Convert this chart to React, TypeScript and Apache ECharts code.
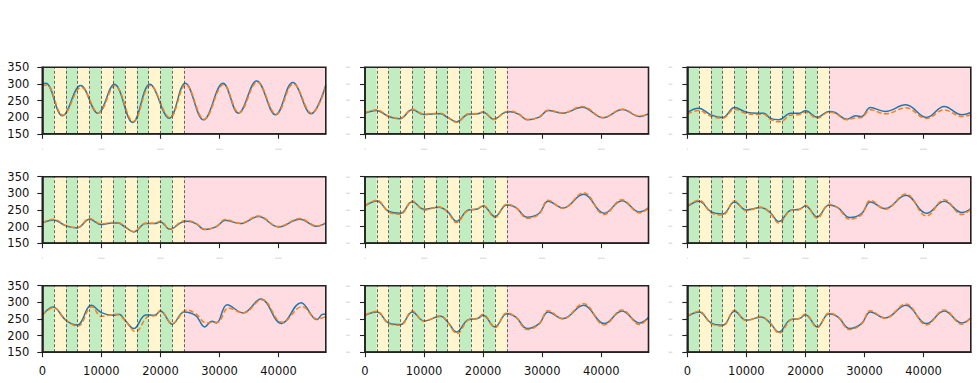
import React, { useEffect, useRef } from "react";
import * as echarts from "echarts";

type P = [number, number][];

// x positions (samples) and values, per panel (row-major)
const p11Blue: P = [[0,300],[600,302],[3400,204],[6500,295],[9400,212],[12200,299],[15300,184],[18200,299],[21500,197],[24200,302],[27300,192],[30600,302],[33200,212],[36300,309],[39500,207],[42400,304],[45500,210],[48000,297]];
const p11Orange: P = [[0,295],[700,297],[3500,206],[6600,290],[9500,213],[12300,295],[15400,187],[18300,295],[21600,199],[24300,298],[27400,194],[30700,298],[33300,213],[36400,305],[39600,209],[42500,300],[45600,212],[48000,292]];

const p12Blue: P = [[0,212],[1900,220],[4000,202],[5900,195],[8000,222],[10000,208],[11800,210],[12800,210],[14000,199],[15500,186],[17500,209],[19000,210],[20000,215],[21800,194],[23800,215],[24600,216],[26000,209],[27500,192],[29500,200],[31000,220],[33500,212],[36800,230],[40300,198],[43600,223],[46500,202],[48000,210]];
const p12Orange: P = [[0,213],[1900,222],[4000,203],[5900,196],[8000,224],[10000,209],[11800,211],[12800,212],[14000,200],[15500,185],[17500,210],[19000,211],[20000,216],[21800,193],[23800,216],[24600,218],[26000,210],[27500,193],[29500,201],[31000,221],[33500,213],[36800,232],[40300,199],[43600,224],[46500,203],[48000,211]];

const p13Blue: P = [[0,214],[1900,227],[4000,207],[6000,199],[8000,229],[10000,215],[12000,212],[13000,212],[14000,197],[15500,192],[17500,212],[19000,212],[20000,219],[22000,200],[24000,217],[25000,214],[27000,194],[28500,204],[29500,202],[31000,229],[33500,217],[37000,237],[40500,199],[43500,232],[46500,207],[48000,214]];
const p13Orange: P = [[0,210],[1900,220],[4000,203],[6000,197],[8000,224],[10000,211],[12000,208],[13000,209],[14000,194],[15700,186],[17500,206],[19000,208],[20000,215],[22000,197],[24000,215],[25000,212],[27000,192],[28500,198],[29500,199],[31000,222],[33500,210],[37000,228],[40500,196],[43500,222],[46500,202],[48000,207]];

const p21Blue: P = [[0,211],[1900,220],[4000,202],[5900,196],[8000,222],[10000,206],[11800,211],[12800,211],[14000,199],[15500,184],[17500,209],[19000,209],[20000,214],[21600,192],[23700,214],[24600,216],[26000,209],[27500,191],[29500,200],[31000,219],[33500,209],[36600,230],[40000,199],[43600,222],[46500,201],[48000,211]];
const p21Orange: P = [[0,212],[1900,222],[4000,203],[5900,197],[8000,224],[10000,208],[11800,212],[12800,212],[14000,200],[15500,185],[17500,210],[19000,210],[20000,216],[21600,193],[23700,216],[24600,218],[26000,210],[27500,192],[29500,201],[31000,221],[33500,210],[36600,232],[40000,200],[43600,224],[46500,202],[48000,212]];

const p22Blue: P = [[0,262],[2000,277],[4000,246],[6000,240],[8000,275],[10000,252],[12500,258],[14000,245],[15500,216],[17500,250],[19000,253],[20000,262],[22000,230],[24000,265],[25500,258],[27500,228],[29500,240],[31000,276],[33500,256],[37000,297],[40500,240],[43500,278],[46500,244],[48000,256]];
const p22Orange: P = [[0,263],[2000,279],[4000,244],[6000,237],[8000,277],[10000,250],[12500,259],[14000,243],[15500,212],[17500,249],[19000,252],[20000,264],[22000,227],[24000,267],[25500,258],[27500,225],[29500,238],[31000,279],[33500,255],[37000,302],[40500,236],[43500,281],[46500,241],[48000,255]];

const p23Blue: P = [[0,260],[2000,276],[4000,245],[6000,238],[8000,274],[10000,250],[12500,257],[14000,243],[15500,215],[17500,249],[19000,252],[20000,262],[22000,229],[24000,265],[25500,257],[27500,227],[29500,239],[31000,274],[33500,254],[37000,294],[40500,240],[43500,276],[46500,242],[48000,254]];
const p23Orange: P = [[0,262],[2000,279],[4000,242],[6000,235],[8000,277],[10000,248],[12500,258],[14000,241],[15500,210],[17500,248],[19000,251],[20000,264],[22000,225],[24000,267],[25500,256],[27500,222],[29500,236],[31000,279],[33500,252],[37000,298],[40500,232],[43500,281],[46500,236],[48000,252]];

const p31Blue: P = [[0,261],[1800,286],[4000,246],[5900,232],[8300,291],[10000,269],[12000,261],[13000,264],[14000,246],[15500,221],[17500,262],[19000,261],[20000,274],[22000,234],[24000,271],[26000,260],[27500,226],[28700,243],[29500,238],[31300,293],[34000,268],[37000,310],[40500,236],[43800,299],[46500,248],[47500,264],[48000,264]];
const p31Orange: P = [[0,262],[1900,284],[4000,247],[6000,228],[8400,287],[10000,258],[12500,264],[14000,246],[15800,212],[18000,258],[19200,260],[20000,276],[22000,236],[24500,277],[26000,265],[27800,238],[29000,240],[29700,240],[31500,283],[34000,268],[37200,308],[40600,240],[44000,287],[46500,250],[48000,257]];

const p32Blue: P = [[0,261],[2000,271],[4000,238],[6000,233],[8000,271],[10000,244],[12800,258],[14000,241],[15500,211],[17500,248],[19000,251],[20000,261],[22000,226],[24000,266],[25500,256],[27500,221],[29500,236],[31000,271],[33500,251],[37000,291],[40500,236],[43500,274],[46500,238],[48000,254]];
const p32Orange: P = [[0,262],[2000,273],[4000,236],[6000,231],[8000,274],[10000,243],[12800,259],[14000,240],[15600,206],[17500,247],[19000,252],[20000,264],[22000,224],[24000,268],[25500,256],[27500,218],[29500,235],[31000,275],[33500,250],[37000,296],[40500,232],[43500,277],[46500,233],[48000,256]];

const p33Blue: P = [[0,258],[2000,271],[4000,238],[6000,231],[8000,273],[10000,246],[12500,256],[14000,238],[15500,211],[17500,248],[19000,251],[20000,263],[22000,226],[24000,266],[25500,256],[27500,221],[29500,236],[31000,271],[33500,253],[37000,291],[40500,236],[43500,274],[46500,238],[48000,253]];
const p33Orange: P = [[0,259],[2000,273],[4000,236],[6000,229],[8000,276],[10000,245],[12500,257],[14000,237],[15600,207],[17500,247],[19000,252],[20000,265],[22000,224],[24000,268],[25500,256],[27500,218],[29500,235],[31000,275],[33500,252],[37000,295],[40500,232],[43500,277],[46500,234],[48000,255]];

const panels: [P, P][] = [
  [p11Blue, p11Orange], [p12Blue, p12Orange], [p13Blue, p13Orange],
  [p21Blue, p21Orange], [p22Blue, p22Orange], [p23Blue, p23Orange],
  [p31Blue, p31Orange], [p32Blue, p32Orange], [p33Blue, p33Orange],
];

const bandEdges = [0, 2000, 4000, 6000, 8000, 10000, 12000, 14000, 16000, 18000, 20000, 22000, 24000, 48000];
const dividers = [2000, 4000, 6000, 8000, 10000, 12000, 14000, 16000, 18000, 20000, 22000, 24000];
const xMin = 0, xMax = 48000, xStep = 10000;
const yMin = 150, yMax = 350, yStep = 50;

const GREEN = "#c1edc1";
const YELLOW = "#fff6cf";
const PINK = "#ffdbe2";

const colLeft = [42.3, 365, 687.3];
const rowTop = [67.3, 176.7, 285.7];
const W = 283.5;
const H = 66.5;

export default function App() {
  const ref = useRef<HTMLDivElement>(null);
  useEffect(() => {
    if (!ref.current) return;
    const chart = echarts.init(ref.current, undefined, { renderer: "svg" });
    const grids: any[] = [];
    const xAxes: any[] = [];
    const yAxes: any[] = [];
    const series: any[] = [];
    const font = "DejaVu Sans";
    panels.forEach(([blue, orange], i) => {
      const r = Math.floor(i / 3);
      const c = i % 3;
      grids.push({
        left: colLeft[c], top: rowTop[r], width: W, height: H,
        show: true, z: 10, backgroundColor: "transparent",
        borderColor: "#222", borderWidth: 1.6,
      });
      const bigX = r === 2;
      const bigY = c === 0;
      xAxes.push({
        type: "value", gridIndex: i, min: xMin, max: xMax, interval: xStep, z: 10,
        axisLine: { show: true, lineStyle: { color: "#222", width: 1.6 } },
        axisTick: { show: true, length: 5, lineStyle: { color: "#222", width: 1.1 } },
        splitLine: { show: false },
        axisLabel: {
          show: true, showMaxLabel: false,
          formatter: (v: number) => String(v),
          fontFamily: font,
          fontSize: bigX ? 11.5 : 2,
          color: bigX ? "#111" : "#999",
          margin: bigX ? 13 : 14,
        },
      });
      yAxes.push({
        type: "value", gridIndex: i, min: yMin, max: yMax, interval: yStep, z: 10,
        axisLine: { show: true, lineStyle: { color: "#222", width: 1.6 } },
        axisTick: { show: true, length: 5, lineStyle: { color: "#222", width: 1.1 } },
        splitLine: { show: false },
        axisLabel: {
          show: true,
          formatter: (v: number) => String(v),
          fontFamily: font,
          fontSize: bigY ? 11.5 : 2,
          color: bigY ? "#111" : "#999",
          margin: bigY ? 13 : 15,
        },
      });
      const areas: any[] = [];
      for (let k = 0; k < bandEdges.length - 1; k++) {
        const color = k === bandEdges.length - 2 ? PINK : k % 2 === 0 ? GREEN : YELLOW;
        areas.push([{ xAxis: bandEdges[k], itemStyle: { color } }, { xAxis: bandEdges[k + 1] }]);
      }
      series.push({
        type: "line", xAxisIndex: i, yAxisIndex: i, data: blue, z: 1, silent: true,
        showSymbol: false, lineStyle: { opacity: 0 },
        markArea: { silent: true, label: { show: false }, data: areas },
      });
      series.push({
        type: "line", xAxisIndex: i, yAxisIndex: i, data: blue, z: 1.5, silent: true,
        showSymbol: false, lineStyle: { opacity: 0 },
        markLine: {
          silent: true, symbol: ["none", "none"], label: { show: false },
          lineStyle: { color: "#444", width: 0.8, type: [3, 2] },
          data: dividers.map((d) => ({ xAxis: d })),
        },
      });
      series.push({
        type: "line", xAxisIndex: i, yAxisIndex: i, data: blue, z: 3,
        showSymbol: false, smooth: 0.4,
        lineStyle: { color: "#1f77b4", width: 1.5 },
      });
      series.push({
        type: "line", xAxisIndex: i, yAxisIndex: i, data: orange, z: 4,
        showSymbol: false, smooth: 0.4,
        lineStyle: { color: "#ff7f0e", width: 1.5, type: [5, 2.5] },
      });
    });
    chart.setOption({
      animation: false,
      backgroundColor: "#ffffff",
      grid: grids,
      xAxis: xAxes,
      yAxis: yAxes,
      series,
    });
    return () => chart.dispose();
  }, []);
  return (
    <div
      ref={ref}
      style={{ position: "fixed", left: 0, top: 0, width: 978, height: 383 }}
    />
  );
}
